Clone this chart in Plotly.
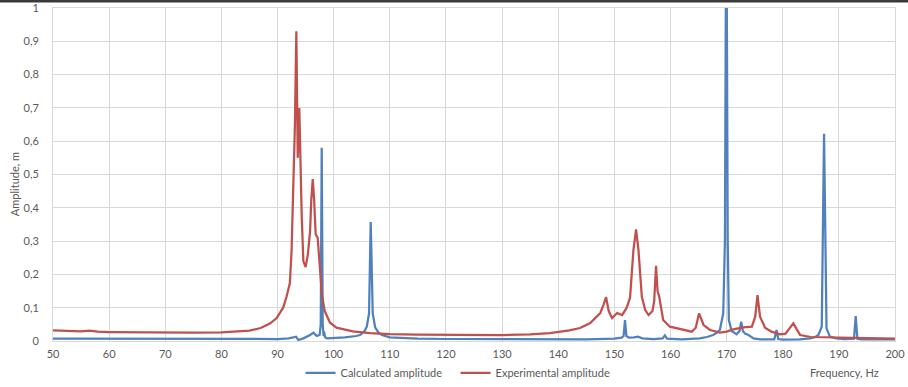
import plotly.graph_objects as go

# Calculated amplitude (blue)
freq_calc = [50, 55, 60, 70, 80, 85, 90, 92, 92.8, 93.3, 93.7, 94.6, 95.8, 96.4, 97.0, 97.5,
             97.7, 97.87, 98.05, 98.2, 98.3, 98.45, 98.8, 100, 102, 104, 104.7, 105.5, 105.9,
             106.3, 106.6, 106.96, 107.4, 108, 108.6, 110, 115, 120, 130, 140, 145, 150, 151.3,
             151.65, 151.9, 152.15, 152.6, 153.5, 154.2, 155, 157, 158.6, 159.0, 159.4, 162,
             165.2, 166.5, 167.6, 168.3, 168.8, 169.4, 169.7, 169.95, 170.2, 170.4, 170.9, 171.8,
             172.3, 172.6, 172.9, 173.3, 173.9, 174.8, 176, 178.5, 178.9, 179.2, 180, 183, 184.9,
             185.8, 186.35, 186.95, 187.36, 187.8, 188.4, 189.5, 191, 192.7, 193.0, 193.3, 194,
             197, 200]
amp_calc = [0.007, 0.007, 0.006, 0.005, 0.005, 0.005, 0.006, 0.008, 0.010, 0.013, 0.003, 0.008,
            0.018, 0.025, 0.015, 0.018, 0.05, 0.58, 0.05, 0.015, 0.028, 0.012, 0.008, 0.009,
            0.011, 0.015, 0.018, 0.03, 0.043, 0.083, 0.357, 0.083, 0.04, 0.025, 0.018, 0.011,
            0.007, 0.006, 0.005, 0.005, 0.005, 0.007, 0.01, 0.015, 0.063, 0.015, 0.01, 0.011,
            0.013, 0.008, 0.006, 0.008, 0.017, 0.007, 0.005, 0.008, 0.012, 0.018, 0.025, 0.033,
            0.083, 0.3, 1.4, 0.3, 0.063, 0.03, 0.02, 0.03, 0.058, 0.03, 0.022, 0.018, 0.008,
            0.005, 0.005, 0.033, 0.006, 0.004, 0.005, 0.008, 0.012, 0.018, 0.043, 0.622, 0.038,
            0.013, 0.008, 0.006, 0.007, 0.075, 0.007, 0.005, 0.005, 0.005]

# Experimental amplitude (red)
freq_exp = [50, 52, 55, 56.5, 58, 60, 65, 70, 75, 80, 83, 85, 87, 88.7, 89.85, 91, 91.6, 92.2,
            92.5, 92.8, 93.1, 93.35, 93.6, 93.88, 94.05, 94.3, 94.6, 95.0, 95.4, 95.8, 96.0,
            96.27, 96.5, 96.8, 97.15, 97.5, 97.9, 98.4, 99.35, 100.5, 103.4, 106.5, 110, 115,
            120, 130, 135, 138.5, 142, 143.9, 145.7, 147.5, 148.1, 148.52, 149.0, 149.6, 150.5,
            151.4, 152.2, 152.8, 153.4, 153.87, 154.3, 154.9, 155.5, 156.1, 156.8, 157.1,
            157.43, 157.7, 158.0, 158.7, 159.9, 162.0, 163.8, 164.5, 165.1, 165.9, 167.05,
            168.8, 170.0, 171.2, 173.0, 174.5, 175.1, 175.5, 175.96, 176.85, 178, 179.5, 180.5,
            181.3, 181.9, 182.5, 183.1, 185, 190, 195, 200]
amp_exp = [0.032, 0.030, 0.029, 0.031, 0.028, 0.027, 0.026, 0.025, 0.025, 0.026, 0.028, 0.031,
           0.039, 0.053, 0.069, 0.1, 0.133, 0.174, 0.27, 0.47, 0.65, 0.93, 0.55, 0.70, 0.54,
           0.38, 0.24, 0.222, 0.26, 0.33, 0.42, 0.486, 0.43, 0.32, 0.31, 0.22, 0.14, 0.09,
           0.055, 0.04, 0.029, 0.024, 0.021, 0.019, 0.018, 0.018, 0.02, 0.024, 0.032, 0.039,
           0.054, 0.084, 0.11, 0.132, 0.09, 0.069, 0.084, 0.078, 0.1, 0.13, 0.273, 0.335,
           0.273, 0.133, 0.093, 0.078, 0.09, 0.12, 0.226, 0.15, 0.133, 0.063, 0.043, 0.035,
           0.028, 0.04, 0.083, 0.048, 0.033, 0.025, 0.028, 0.035, 0.041, 0.043, 0.073, 0.138,
           0.073, 0.04, 0.028, 0.02, 0.022, 0.04, 0.053, 0.035, 0.018, 0.012, 0.01, 0.008,
           0.007]

x_ticks = [50, 60, 70, 80, 90, 100, 110, 120, 130, 140, 150, 160, 170, 180, 190, 200]

FONT = "Lato"
TXT = "#595959"
GRID = "#D9D9D9"

fig = go.Figure()
fig.add_trace(go.Scatter(x=freq_calc, y=amp_calc, mode="lines", name="Calculated amplitude",
                         line=dict(color="#4F81BD", width=2.25)))
fig.add_trace(go.Scatter(x=freq_exp, y=amp_exp, mode="lines", name="Experimental amplitude",
                         line=dict(color="#C0504D", width=2.25)))

fig.update_layout(
    width=908, height=387,
    margin=dict(l=53, r=13, t=8, b=46, autoexpand=False),
    paper_bgcolor="white", plot_bgcolor="white",
    separators=", ",
    font=dict(family=FONT, size=11, color=TXT),
    showlegend=True,
    legend=dict(orientation="h", x=0.294, xanchor="left", y=-0.096, yanchor="middle",
                font=dict(family=FONT, size=11, color=TXT), itemwidth=30, entrywidth=110,
                bgcolor="rgba(0,0,0,0)", tracegroupgap=0),
    xaxis=dict(range=[50, 200], tickmode="array", tickvals=x_ticks, showgrid=True,
               gridcolor=GRID, gridwidth=1, zeroline=False, showline=True, linecolor=GRID,
               mirror=True, ticks="", ticklabelstandoff=3, automargin=False,
               tickfont=dict(family=FONT, size=11, color=TXT)),
    yaxis=dict(range=[0, 1], dtick=0.1, showgrid=True, gridcolor=GRID, gridwidth=1,
               zeroline=False, showline=True, linecolor=GRID, mirror=True, ticks="",
               ticklabelstandoff=11, automargin=False,
               tickfont=dict(family=FONT, size=11, color=TXT)),
    annotations=[
        dict(text="Amplitude, m", xref="paper", yref="paper", x=-0.0463, y=0.471,
             textangle=-90, showarrow=False, xanchor="center", yanchor="middle",
             font=dict(family=FONT, size=11, color=TXT)),
        dict(text="Frequency, Hz", xref="paper", yref="paper", x=0.9834, y=-0.096,
             showarrow=False, xanchor="right", yanchor="middle",
             font=dict(family=FONT, size=11, color=TXT)),
    ],
    shapes=[dict(type="rect", xref="paper", yref="paper", x0=-0.07, x1=1.02,
                 y0=1 + 5.5 / 333, y1=1 + 8 / 333, fillcolor="#3a3a3a", line=dict(width=0),
                 layer="above")],
)

fig.write_html("out.html", config={"displayModeBar": False},
               post_script="document.body.style.margin='0';document.body.style.overflow='hidden';")
